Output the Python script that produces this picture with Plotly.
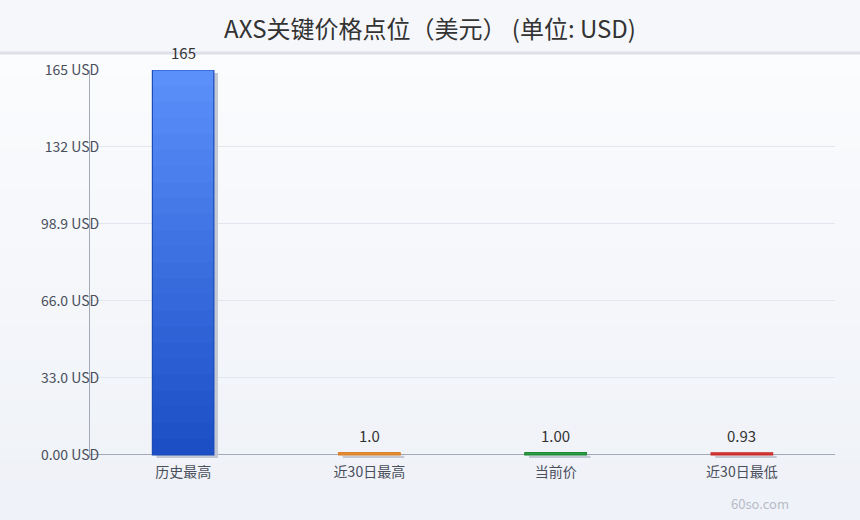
import numpy as np
import plotly.graph_objects as go

# DATA

categories = ["历史最高", "近30日最高", "当前价", "近30日最低"]
prices = [164.9, 1.0, 1.0, 0.93]
price_labels = ["165", "1.0", "1.00", "0.93"]
tick_values = [0, 32.98, 65.96, 98.94, 131.92, 164.9]
tick_labels = ["0.00 USD", "33.0 USD", "66.0 USD", "98.9 USD", "132 USD", "165 USD"]

# THEME

COLORS = {
    "text": "#333333",
    "subtext": "#4a4f5c",
    "grid": "#e2e6ee",
    "axis": "#a3a9b6",
    "shadow": "#c3c8d4",
    # (top, bottom) of each bar's vertical gradient
    "grad_top": ["#5b90fb", "#f7ad62", "#4cc463", "#ef6b63"],
    "grad_bot": ["#1a4cc3", "#e07b20", "#238c3a", "#c92a2a"],
    "edges": ["#1d4cb8", "#d9822b", "#1e8a35", "#c92a2a"],
}

FONT = "Noto Sans CJK SC, Noto Sans, sans-serif"

BAR_W = 0.33
SHADOW_DX = 0.022     # shadow shift in category units
SHADOW_DY = 1.3       # shadow drop in data units
N_STEPS = 24          # gradient steps


def hex_rgb(h):
    h = h.lstrip("#")
    return np.array([int(h[i:i + 2], 16) for i in (0, 2, 4)])


fig = go.Figure()

# soft drop shadow behind each bar
fig.add_trace(go.Bar(
    x=categories,
    y=prices,
    base=[-SHADOW_DY] * len(prices),
    width=BAR_W,
    offset=-BAR_W / 2 + SHADOW_DX,
    marker=dict(color=COLORS["shadow"], line=dict(width=0)),
    hoverinfo="skip",
    showlegend=False,
))

# gradient fill: overlaid bars, tallest (lightest) first
vals = np.array(prices)
for k in range(N_STEPS, 0, -1):
    frac = k / N_STEPS
    cols = []
    for top, bot in zip(COLORS["grad_top"], COLORS["grad_bot"]):
        c = hex_rgb(bot) * (1 - frac) + hex_rgb(top) * frac
        cols.append("rgb(%d,%d,%d)" % tuple(c.astype(int)))
    fig.add_trace(go.Bar(
        x=categories,
        y=vals * frac,
        width=BAR_W,
        offset=-BAR_W / 2,
        marker=dict(color=cols, line=dict(width=0)),
        hoverinfo="skip",
        showlegend=False,
    ))

# outline on top
fig.add_trace(go.Bar(
    x=categories,
    y=prices,
    width=BAR_W,
    offset=-BAR_W / 2,
    marker=dict(color="rgba(0,0,0,0)", line=dict(color=COLORS["edges"], width=1.2)),
    hovertemplate="%{x}: %{y}<extra></extra>",
    showlegend=False,
))

# value labels
annotations = [
    dict(x=c, y=v, text=t, xref="x", yref="y", showarrow=False,
         yanchor="bottom", yshift=5,
         font=dict(size=15, color=COLORS["text"], family=FONT))
    for c, v, t in zip(categories, prices, price_labels)
]
annotations.append(dict(
    text="60so.com", xref="paper", yref="paper",
    x=0.899, y=-0.118, xanchor="center", yanchor="middle",
    showarrow=False, font=dict(size=13, color="#b7bcc8", family=FONT),
))

# background: light vertical gradient below the header band
shapes = []
n_bands = 24
top_c = np.array([251, 252, 254])
bot_c = np.array([239, 242, 248])
for i in range(n_bands):
    t = i / (n_bands - 1)
    c = (top_c * (1 - t) + bot_c * t).astype(int)
    shapes.append(dict(
        type="rect", xref="paper", yref="paper", layer="below",
        x0=-0.2, x1=1.2,
        y0=1.04 - (i + 1) * 1.2 / n_bands, y1=1.04 - i * 1.2 / n_bands,
        fillcolor=f"rgb({c[0]},{c[1]},{c[2]})", line=dict(width=0),
    ))
# header band and divider
shapes.append(dict(
    type="rect", xref="paper", yref="paper", layer="below",
    x0=-0.2, x1=1.2, y0=1.044, y1=1.3,
    fillcolor="#f6f7fa", line=dict(width=0),
))
shapes.append(dict(
    type="line", xref="paper", yref="paper", layer="below",
    x0=-0.2, x1=1.2, y0=1.044, y1=1.044,
    line=dict(color="#dde0e8", width=3),
))

fig.update_layout(
    width=860,
    height=520,
    barmode="overlay",
    paper_bgcolor="#f3f5f9",
    plot_bgcolor="rgba(0,0,0,0)",
    font=dict(family=FONT, color=COLORS["subtext"], size=14),
    margin=dict(l=90, r=25, t=70, b=62),
    title=dict(
        text="AXS关键价格点位（美元） (单位: USD)",
        x=0.5, xanchor="center", y=0.944, yanchor="middle",
        font=dict(size=24, color=COLORS["text"], family=FONT),
    ),
    shapes=shapes,
    annotations=annotations,
)

fig.update_xaxes(
    showgrid=False,
    showline=False,
    tickfont=dict(size=14, color=COLORS["subtext"]),
    ticks="",
    ticklabelstandoff=4,
)

fig.update_yaxes(
    range=[-SHADOW_DY, prices[0]],
    tickvals=tick_values,
    ticktext=tick_labels,
    tickfont=dict(size=14, color=COLORS["subtext"]),
    gridcolor=COLORS["grid"],
    zeroline=True,
    zerolinecolor=COLORS["axis"],
    zerolinewidth=1,
    showline=True,
    linecolor=COLORS["axis"],
    linewidth=1,
    ticklabelstandoff=-13,
)

fig.write_html(
    "out.html",
    config={"displayModeBar": False},
    post_script="document.body.style.margin='0';",
)
